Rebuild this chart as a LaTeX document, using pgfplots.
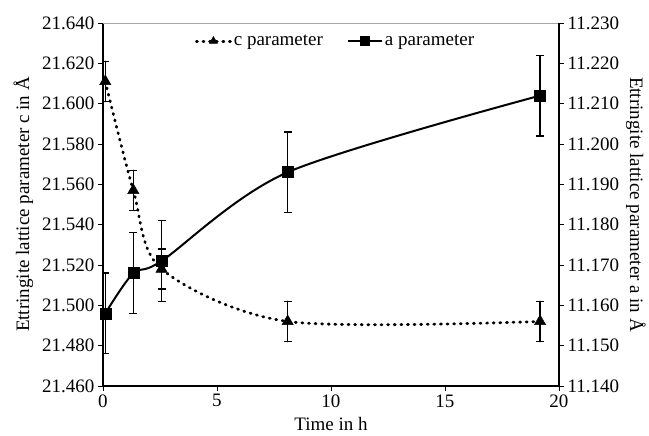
\documentclass[border=0pt]{standalone}
\usepackage{fontspec}
\setmainfont{Liberation Serif}
\usepackage{pgfplots}
\pgfplotsset{compat=1.18}
\usetikzlibrary{calc}

\pgfplotsset{
  lat/.style={
    scale only axis,
    width=456pt, height=363pt,
    xmin=0, xmax=20,
    tick align=outside,
    major tick length=5pt,
    every tick/.style={black, line width=0.9pt},
    axis line style={line width=1.1pt},
    tick label style={font=\fontsize{19}{22}\selectfont},
    label style={font=\fontsize{19}{22}\selectfont},
    /pgf/number format/assume math mode=true,
    yticklabel style={/pgf/number format/.cd, fixed, fixed zerofill, precision=3},
  },
  cpar/.style={black, line width=2.8pt, line cap=round, dash pattern=on 1pt off 5.6pt, smooth, tension=0.5,
    mark=triangle*, mark size=6.5pt, mark options={solid, line width=0.5pt}},
  apar/.style={black, line width=2pt, smooth, tension=0.5,
    mark=square*, mark size=5.5pt, mark options={solid, line width=0.5pt}},
  errs/.style={error bars/.cd, y dir=both, y explicit,
    error bar style={black, line width=1.4pt, solid},
    error mark options={black, rotate=90, mark size=4pt, line width=1.4pt, solid}},
}

\begin{document}
\begin{tikzpicture}
\begin{axis}[lat,
  axis y line*=left, axis x line*=bottom,
  ymin=21.46, ymax=21.64,
  ytick={21.46,21.48,...,21.641},
  xtick={0,5,10,15,20},
  xlabel={Time in h},
  ylabel={Ettringite lattice parameter c in Å},
  ylabel style={yshift=2pt},
  xlabel style={yshift=-3pt},
  legend columns=2,
  legend style={draw=none, fill=none, at={(0.51,0.95)}, anchor=center,
    font=\fontsize{19}{22}\selectfont, /tikz/every even column/.append style={column sep=22pt}},
  legend image code/.code={\draw[mark repeat=2, mark phase=2, #1, mark size=4.6pt] plot coordinates {(0pt,0pt) (17pt,0pt) (34pt,0pt)};},
]
\coordinate (bl) at (rel axis cs:0,0);
\coordinate (tr) at (rel axis cs:1,1);
\draw[gray!70, line width=0.8pt] (rel axis cs:0,1) -- (rel axis cs:1,1);
\addplot+[cpar, errs] coordinates {
  (0.1,21.611) +- (0,0.010)
  (1.33,21.557) +- (0,0.010)
  (2.57,21.518) +- (0,0.010)
  (8.1,21.492) +- (0,0.010)
  (19.17,21.492) +- (0,0.010)
};
\addlegendentry{c parameter}
\addlegendimage{apar, sharp plot}
\addlegendentry{a parameter}
\end{axis}
\begin{axis}[lat,
  axis y line*=right, axis x line=none,
  ymin=11.14, ymax=11.23,
  ytick={11.14,11.15,...,11.231},
  ylabel={Ettringite lattice parameter a in Å},
  ylabel style={rotate=180},
]
\addplot+[apar, errs] coordinates {
  (0.1,11.158) +- (0,0.010)
  (1.33,11.168) +- (0,0.010)
  (2.57,11.171) +- (0,0.010)
  (8.1,11.193) +- (0,0.010)
  (19.17,11.212) +- (0,0.010)
};
\end{axis}
\pgfresetboundingbox
\path ($(bl)+(-103pt,-50pt)$) rectangle ($(tr)+(90pt,23pt)$);
\end{tikzpicture}
\end{document}
